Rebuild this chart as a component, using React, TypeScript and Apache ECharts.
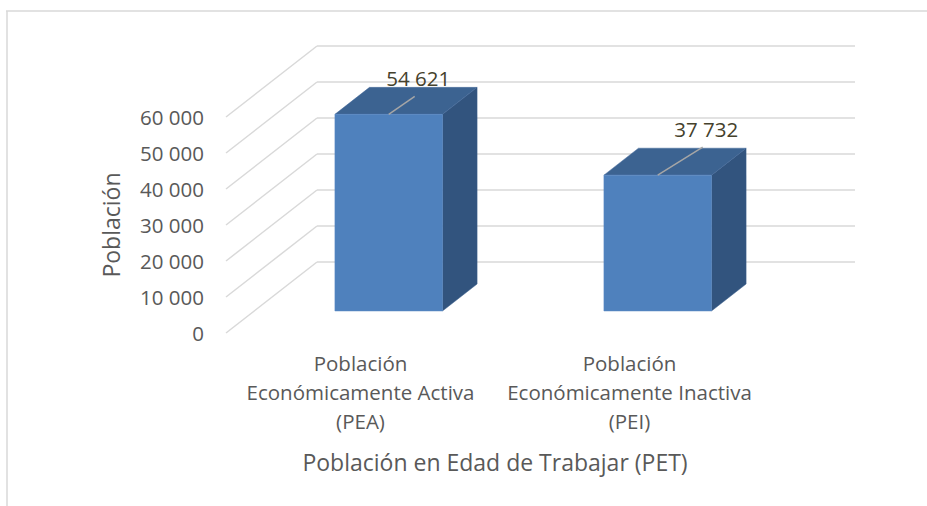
import React, { useEffect, useRef } from "react";
import * as echarts from "echarts";

// ---- data ----
const categories = [
  "Población\nEconómicamente Activa\n(PEA)",
  "Población\nEconómicamente Inactiva\n(PEI)",
];
const values = [54621, 37732];
const yTicks = [0, 10000, 20000, 30000, 40000, 50000, 60000];
const yAxisTitle = "Población";
const xAxisTitle = "Población en Edad de Trabajar (PET)";

// ---- styling ----
const FONT = "'Open Sans'";
const TEXT = "#595959";
const GRID = "#D9D9D9";
const DEPTH = [91, -71]; // floor depth vector (px)
const BAR_FRONT = 0.31;
const BAR_BACK = 0.69;
const LEADER = [
  [26, -18],
  [45, -28],
];
const FRONT_COLOR = "#4F81BD";
const TOP_COLOR = "#3C6391";
const SIDE_COLOR = "#32547E";

const fmt = (v: number) =>
  String(Math.round(v)).replace(/\B(?=(\d{3})+(?!\d))/g, " ");

export default function App() {
  const ref = useRef<HTMLDivElement>(null);
  useEffect(() => {
    document.body.style.margin = "0";
    const chart = echarts.init(ref.current!, null, { renderer: "svg" });
    chart.setOption({
      animation: false,
      backgroundColor: "#ffffff",
      grid: { left: 226, right: 163, top: 117, bottom: 173, containLabel: false },
      graphic: [
        { type: "line", shape: { x1: 6, y1: 11, x2: 927, y2: 11 }, style: { stroke: GRID, lineWidth: 1.5 }, silent: true },
        { type: "line", shape: { x1: 7, y1: 11, x2: 7, y2: 506 }, style: { stroke: GRID, lineWidth: 1.5 }, silent: true },
      ],
      xAxis: {
        type: "category",
        data: categories,
        axisLine: { show: false },
        axisTick: { show: false },
        axisLabel: {
          interval: 0,
          color: TEXT,
          fontFamily: FONT,
          fontSize: 20.5,
          lineHeight: 29,
          margin: 15,
        },
        name: xAxisTitle,
        nameLocation: "middle",
        nameGap: 117,
        nameTextStyle: { color: TEXT, fontFamily: FONT, fontSize: 23 },
      },
      yAxis: {
        type: "value",
        min: 0,
        max: 60000,
        interval: 10000,
        axisLine: { show: false },
        axisTick: { show: false },
        splitLine: { show: false },
        axisLabel: {
          color: TEXT,
          fontFamily: FONT,
          fontSize: 20.5,
          margin: 22,
          formatter: (v: number) => fmt(v),
        },
        name: yAxisTitle,
        nameLocation: "middle",
        nameGap: 104,
        nameTextStyle: { color: TEXT, fontFamily: FONT, fontSize: 23 },
      },
      series: [
        {
          type: "custom",
          z: 1,
          silent: true,
          data: yTicks.map((v) => [0, v]),
          renderItem: (params: any, api: any) => {
            const cs = params.coordSys;
            const p = api.coord([0, api.value(1)]);
            const x0 = cs.x;
            const y = p[1];
            const bx = x0 + DEPTH[0];
            const by = y + DEPTH[1];
            return {
              type: "group",
              children: [
                { type: "line", shape: { x1: x0, y1: y, x2: bx, y2: by }, style: { stroke: GRID, lineWidth: 1.5 } },
                { type: "line", shape: { x1: bx, y1: by, x2: bx + cs.width, y2: by }, style: { stroke: GRID, lineWidth: 1.5 } },
              ],
            };
          },
        },
        {
          type: "custom",
          z: 2,
          silent: true,
          data: values.map((v, i) => [i, v]),
          renderItem: (params: any, api: any) => {
            const i = api.value(0);
            const v = api.value(1);
            const top = api.coord([i, v]);
            const base = api.coord([i, 0]);
            const bw = api.size([1, 0])[0] * 0.4;
            const ox = DEPTH[0] * BAR_FRONT;
            const oy = DEPTH[1] * BAR_FRONT;
            const dx = DEPTH[0] * (BAR_BACK - BAR_FRONT);
            const dy = DEPTH[1] * (BAR_BACK - BAR_FRONT);
            const cx = top[0] + ox;
            const xl = cx - bw / 2;
            const xr = cx + bw / 2;
            const ty = top[1] + oy;
            const byy = base[1] + oy;
            const lead = LEADER[params.dataIndex] || [30, -20];
            const lx = cx + lead[0];
            const ly = ty + lead[1];
            return {
              type: "group",
              children: [
                { type: "polygon", shape: { points: [[xr, ty], [xr + dx, ty + dy], [xr + dx, byy + dy], [xr, byy]] }, style: { fill: SIDE_COLOR, stroke: "#3A5F8C", lineWidth: 0.5 } },
                { type: "polygon", shape: { points: [[xl, ty], [xl + dx, ty + dy], [xr + dx, ty + dy], [xr, ty]] }, style: { fill: TOP_COLOR, stroke: "#45699A", lineWidth: 0.5 } },
                { type: "rect", shape: { x: xl, y: ty, width: bw, height: byy - ty }, style: { fill: FRONT_COLOR, stroke: "#5A8AC4", lineWidth: 0.5 } },
                { type: "line", shape: { x1: cx, y1: ty, x2: lx, y2: ly }, style: { stroke: "#A6A6A6", lineWidth: 1.5 } },
                {
                  type: "text",
                  x: lx + 3.5,
                  y: ly - 18,
                  style: {
                    text: fmt(v),
                    fill: "#45412C",
                    font: `20.5px ${FONT}`,
                    textAlign: "center",
                    textVerticalAlign: "middle",
                  },
                },
              ],
            };
          },
        },
      ],
    });
    return () => chart.dispose();
  }, []);
  return <div ref={ref} style={{ width: 927, height: 506 }} />;
}
